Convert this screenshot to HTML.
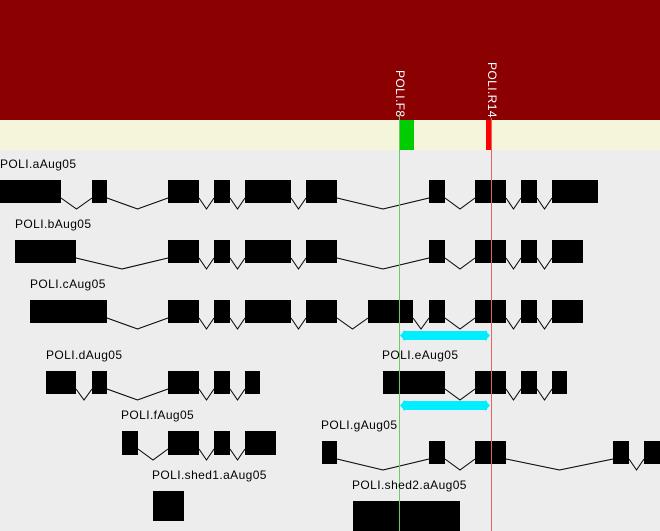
<!DOCTYPE html>
<html><head><meta charset="utf-8"><style>
html,body{margin:0;padding:0;background:#ededed;}
svg{display:block}
text{font-family:"Liberation Sans",sans-serif;font-size:12px;letter-spacing:0.4px;fill:#000}
</style></head><body>
<svg width="660" height="531" viewBox="0 0 660 531" xmlns="http://www.w3.org/2000/svg">
<rect x="0" y="0" width="660" height="531" fill="#ededed"/>
<rect x="0" y="0" width="660" height="120" fill="#8b0000"/>
<rect x="0" y="120" width="660" height="30" fill="#f5f5dc"/>
<rect x="399" y="120" width="15" height="30" fill="#00cc00"/>
<rect x="486" y="120" width="6" height="30" fill="#ff0000"/>
<text transform="translate(396,70) rotate(90)" style="fill:#fff">POLI.F8</text>
<text transform="translate(488,62) rotate(90)" style="fill:#fff">POLI.R14</text>

<g fill="none" stroke="#000" stroke-width="1">
<!-- a y=180 -->
<polyline points="61,198 76.5,209 92,198"/><polyline points="107,198 137.5,209 168,198"/><polyline points="199,198 206.5,209 214,198"/><polyline points="230,198 237.5,209 245,198"/><polyline points="291,198 298.5,209 306,198"/><polyline points="337,198 383,209 429,198"/><polyline points="445,198 460,209 475,198"/><polyline points="506,198 513.5,209 521,198"/><polyline points="537,198 544.5,209 552,198"/>
<!-- b y=240 -->
<polyline points="76,258 122,269 168,258"/><polyline points="199,258 206.5,269 214,258"/><polyline points="230,258 237.5,269 245,258"/><polyline points="291,258 298.5,269 306,258"/><polyline points="337,258 383,269 429,258"/><polyline points="445,258 460,269 475,258"/><polyline points="506,258 513.5,269 521,258"/><polyline points="537,258 544.5,269 552,258"/>
<!-- c y=300 -->
<polyline points="107,318 137.5,329 168,318"/><polyline points="199,318 206.5,329 214,318"/><polyline points="230,318 237.5,329 245,318"/><polyline points="291,318 298.5,329 306,318"/><polyline points="337,318 352.5,329 368,318"/><polyline points="413,318 421,329 429,318"/><polyline points="445,318 460,329 475,318"/><polyline points="506,318 513.5,329 521,318"/><polyline points="537,318 544.5,329 552,318"/>
<!-- d y=371 -->
<polyline points="76,389 84,400 92,389"/><polyline points="107,389 137.5,400 168,389"/><polyline points="199,389 206.5,400 214,389"/><polyline points="230,389 237.5,400 245,389"/>
<!-- e y=371 -->
<polyline points="445,389 460,400 475,389"/><polyline points="506,389 513.5,400 521,389"/><polyline points="537,389 544.5,400 552,389"/>
<!-- f y=431 -->
<polyline points="138,449 153,460 168,449"/><polyline points="199,449 206.5,460 214,449"/><polyline points="230,449 237.5,460 245,449"/>
<!-- g y=441 -->
<polyline points="337,459 383,470 429,459"/><polyline points="445,459 460,470 475,459"/><polyline points="506,459 559.5,470 613,459"/><polyline points="629,459 636.5,470 644,459"/>
</g>

<g fill="#000">
<rect x="0" y="180" width="61" height="23"/><rect x="92" y="180" width="15" height="23"/><rect x="168" y="180" width="31" height="23"/><rect x="214" y="180" width="16" height="23"/><rect x="245" y="180" width="46" height="23"/><rect x="306" y="180" width="31" height="23"/><rect x="429" y="180" width="16" height="23"/><rect x="475" y="180" width="31" height="23"/><rect x="521" y="180" width="16" height="23"/><rect x="552" y="180" width="46" height="23"/>

<rect x="15" y="240" width="61" height="23"/><rect x="168" y="240" width="31" height="23"/><rect x="214" y="240" width="16" height="23"/><rect x="245" y="240" width="46" height="23"/><rect x="306" y="240" width="31" height="23"/><rect x="429" y="240" width="16" height="23"/><rect x="475" y="240" width="31" height="23"/><rect x="521" y="240" width="16" height="23"/><rect x="552" y="240" width="31" height="23"/>

<rect x="30" y="300" width="77" height="23"/><rect x="168" y="300" width="31" height="23"/><rect x="214" y="300" width="16" height="23"/><rect x="245" y="300" width="46" height="23"/><rect x="306" y="300" width="31" height="23"/><rect x="368" y="300" width="45" height="23"/><rect x="429" y="300" width="16" height="23"/><rect x="475" y="300" width="31" height="23"/><rect x="521" y="300" width="16" height="23"/><rect x="552" y="300" width="31" height="23"/>

<rect x="46" y="371" width="30" height="23"/><rect x="92" y="371" width="15" height="23"/><rect x="168" y="371" width="31" height="23"/><rect x="214" y="371" width="16" height="23"/><rect x="245" y="371" width="15" height="23"/>

<rect x="383" y="371" width="62" height="23"/><rect x="475" y="371" width="31" height="23"/><rect x="521" y="371" width="16" height="23"/><rect x="552" y="371" width="15" height="23"/>

<rect x="122" y="431" width="16" height="24"/><rect x="168" y="431" width="31" height="24"/><rect x="214" y="431" width="16" height="24"/><rect x="245" y="431" width="31" height="24"/>

<rect x="322" y="441" width="15" height="23"/><rect x="429" y="441" width="16" height="23"/><rect x="475" y="441" width="31" height="23"/><rect x="613" y="441" width="16" height="23"/><rect x="644" y="441" width="16" height="23"/>

<rect x="153" y="491" width="31" height="30"/>
<rect x="353" y="501" width="107" height="30"/>
</g>

<!-- cyan arrows -->
<g fill="#00eeff">
<rect x="403" y="331" width="84" height="9"/><polygon points="400,335.5 405,330 405,341"/><polygon points="490,335.5 485,330 485,341"/>
<rect x="403" y="401" width="84" height="9"/><polygon points="400,405.5 405,400 405,411"/><polygon points="490,405.5 485,400 485,411"/>
</g>

<line x1="399.5" y1="114" x2="399.5" y2="531" stroke="#66cc66" stroke-width="1"/>
<line x1="491.5" y1="118" x2="491.5" y2="531" stroke="#e06666" stroke-width="1"/>

<text x="0" y="168">POLI.aAug05</text>
<text x="15" y="228">POLI.bAug05</text>
<text x="30" y="288">POLI.cAug05</text>
<text x="46" y="359">POLI.dAug05</text>
<text x="382" y="359">POLI.eAug05</text>
<text x="121" y="419">POLI.fAug05</text>
<text x="321" y="429">POLI.gAug05</text>
<text x="152" y="479">POLI.shed1.aAug05</text>
<text x="352" y="489">POLI.shed2.aAug05</text>
</svg>
</body></html>
